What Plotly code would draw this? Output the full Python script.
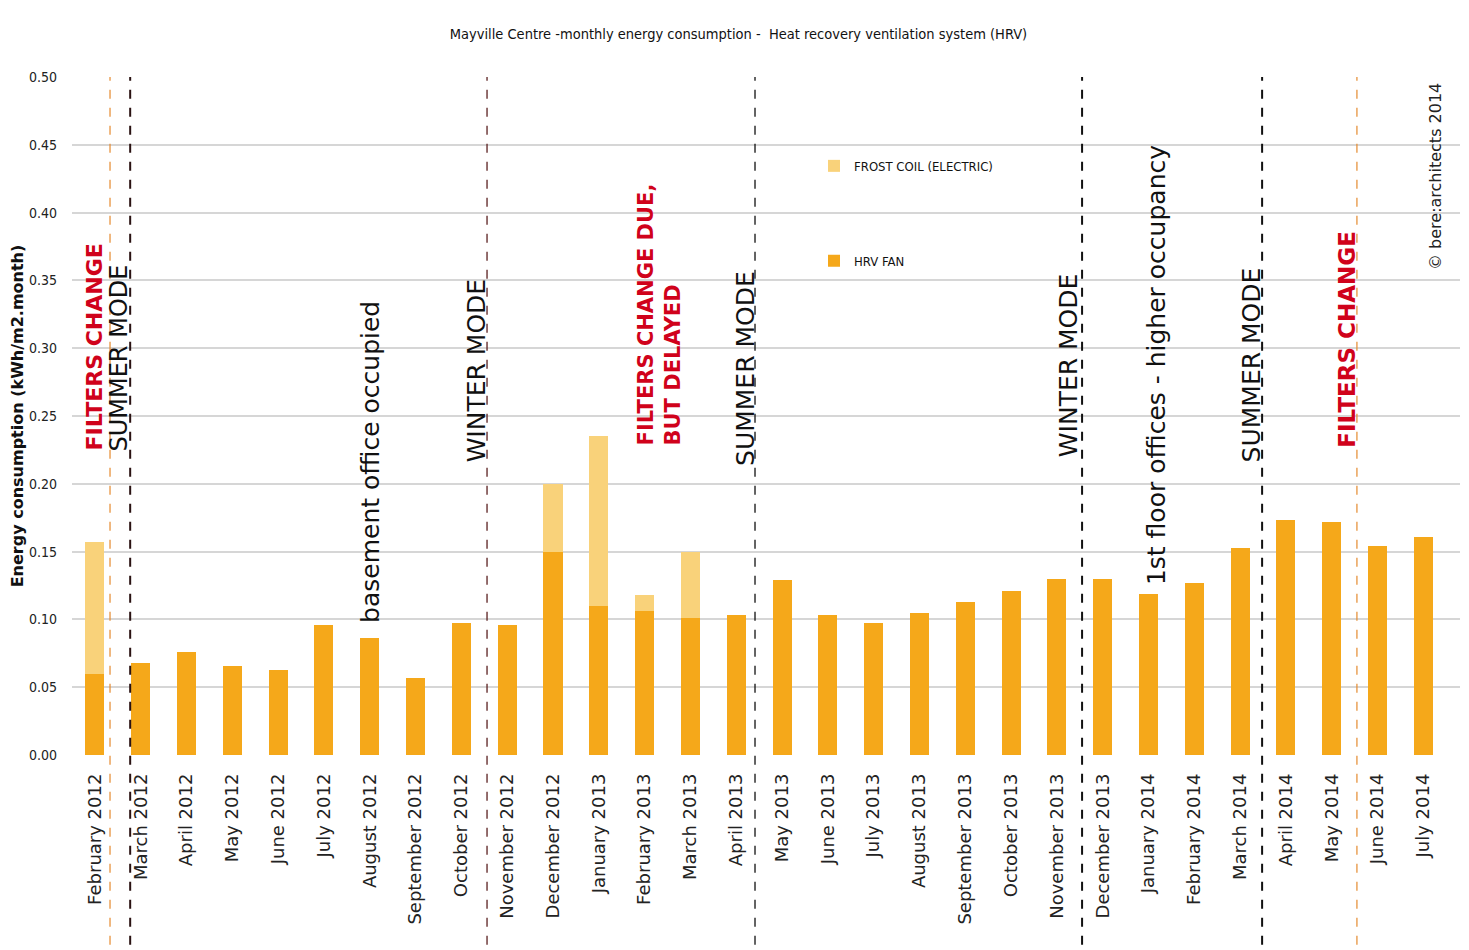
import plotly.graph_objects as go

months = ["February 2012", "March 2012", "April 2012", "May 2012", "June 2012", "July 2012",
          "August 2012", "September 2012", "October 2012", "November 2012", "December 2012",
          "January 2013", "February 2013", "March 2013", "April 2013", "May 2013", "June 2013",
          "July 2013", "August 2013", "September 2013", "October 2013", "November 2013",
          "December 2013", "January 2014", "February 2014", "March 2014", "April 2014",
          "May 2014", "June 2014", "July 2014"]

hrv_fan = [0.060, 0.068, 0.076, 0.066, 0.063, 0.096, 0.086, 0.057, 0.097, 0.096, 0.150,
           0.110, 0.106, 0.101, 0.103, 0.129, 0.103, 0.097, 0.105, 0.113, 0.121, 0.130,
           0.130, 0.119, 0.127, 0.153, 0.173, 0.172, 0.154, 0.161]

frost_coil = [0.097, 0, 0, 0, 0, 0, 0, 0, 0, 0, 0.050,
              0.125, 0.012, 0.049, 0, 0, 0, 0, 0, 0, 0, 0,
              0, 0, 0, 0, 0, 0, 0, 0]

y_ticks = [0.00, 0.05, 0.10, 0.15, 0.20, 0.25, 0.30, 0.35, 0.40, 0.45, 0.50]

# event markers: (position between categories, colour, width)
event_lines = [(0.33, "#E58A2E", 1.2), (0.77, "#2a1212", 2), (8.56, "#5a2020", 1.3),
               (14.41, "#111111", 1.3), (21.55, "#111111", 2), (25.48, "#111111", 2),
               (27.55, "#E58A2E", 1.2)]

# annotations: (x, y bottom, text, colour, bold, size)
event_texts = [
    (-0.02, 0.2235, "FILTERS CHANGE", "#D0021B", True, 22),
    (0.52, 0.2225, "SUMMER MODE", "#111111", False, 24),
    (6.03, 0.096, "basement office occupied", "#111111", False, 25),
    (8.32, 0.214, "WINTER MODE", "#111111", False, 25),
    (12.32, 0.227, "FILTERS CHANGE DUE,<br>BUT DELAYED", "#D0021B", True, 21),
    (14.19, 0.212, "SUMMER MODE", "#111111", False, 25),
    (21.27, 0.218, "WINTER MODE", "#111111", False, 25),
    (23.19, 0.124, "1st floor offices - higher occupancy", "#111111", False, 25),
    (25.24, 0.214, "SUMMER MODE", "#111111", False, 25),
    (27.34, 0.225, "FILTERS CHANGE", "#D0021B", True, 23),
]

NARROW = "DejaVu Sans Condensed, Liberation Sans Narrow, sans-serif"
VERD = "DejaVu Sans, Verdana, sans-serif"

x_idx = list(range(len(months)))

fig = go.Figure()
fig.add_trace(go.Bar(x=x_idx, y=hrv_fan, name="HRV FAN", marker_color="#F5A81A",
                     marker_line_width=0, legendgroup="hrv", legendrank=2))
fig.add_trace(go.Bar(x=x_idx, y=frost_coil, name="FROST COIL (ELECTRIC)", marker_color="#F9D27A",
                     marker_line_width=0, legendgroup="frost", legendrank=1))

shapes = []
for xp, col, w in event_lines:
    shapes.append(dict(type="line", xref="x", yref="paper", x0=xp, x1=xp, y0=-0.28, y1=1.0,
                       line=dict(color=col, width=w, dash="dash")))
shapes.append(dict(type="line", xref="paper", yref="paper", x0=1.002, x1=1.002, y0=-0.29, y1=1.11,
                   line=dict(color="#dddddd", width=1)))

annotations = []
for xp, yb, txt, col, bold, sz in event_texts:
    t = f"<b>{txt}</b>" if bold else txt
    annotations.append(dict(x=xp, y=yb, xref="x", yref="y", text=t, textangle=-90,
                            showarrow=False, xanchor="center", yanchor="bottom", align="left",
                            font=dict(family=VERD, size=sz, color=col)))
annotations.append(dict(x=29.26, y=0.356, xref="x", yref="y", text="© bere:architects 2014",
                        textangle=-90, showarrow=False, xanchor="center", yanchor="bottom",
                        font=dict(family=VERD, size=16, color="#222222")))

fig.update_layout(
    width=1461, height=942,
    margin=dict(l=64, r=9, t=69, b=195),
    paper_bgcolor="white", plot_bgcolor="white",
    barmode="stack", bargap=0.585,
    title=dict(text="Mayville Centre -monthly energy consumption -  Heat recovery ventilation system (HRV)",
               x=0.5, xref="container", xanchor="center", y=0.972, yanchor="middle",
               font=dict(family=NARROW, size=14.5, color="#111111")),
    legend=dict(x=0.5346, y=0.891, xanchor="left", yanchor="top", traceorder="grouped",
                tracegroupgap=75, bgcolor="rgba(0,0,0,0)",
                font=dict(family=NARROW, size=13, color="#111111")),
    shapes=shapes,
    annotations=annotations,
    xaxis=dict(range=[-0.5, 29.8], tickmode="array", tickvals=x_idx, ticktext=months,
               tickangle=-90, showgrid=False, zeroline=False, showline=False, ticks="",
               ticklabelstandoff=14, automargin=False,
               tickfont=dict(family=VERD, size=18, color="#222222")),
    yaxis=dict(range=[0, 0.5], tickmode="array", tickvals=y_ticks,
               ticktext=[f"{v:.2f}" for v in y_ticks],
               showgrid=True, gridcolor="#d6d6d6", gridwidth=2, zeroline=False,
               showline=False, ticks="", ticklabelstandoff=14, automargin=False,
               tickfont=dict(family=NARROW, size=14, color="#222222"),
               title=dict(text="<b>Energy consumption (kWh/m2.month)</b>", standoff=3,
                          font=dict(family=VERD, size=16, color="#111111"))),
)

fig.write_html("out.html")
